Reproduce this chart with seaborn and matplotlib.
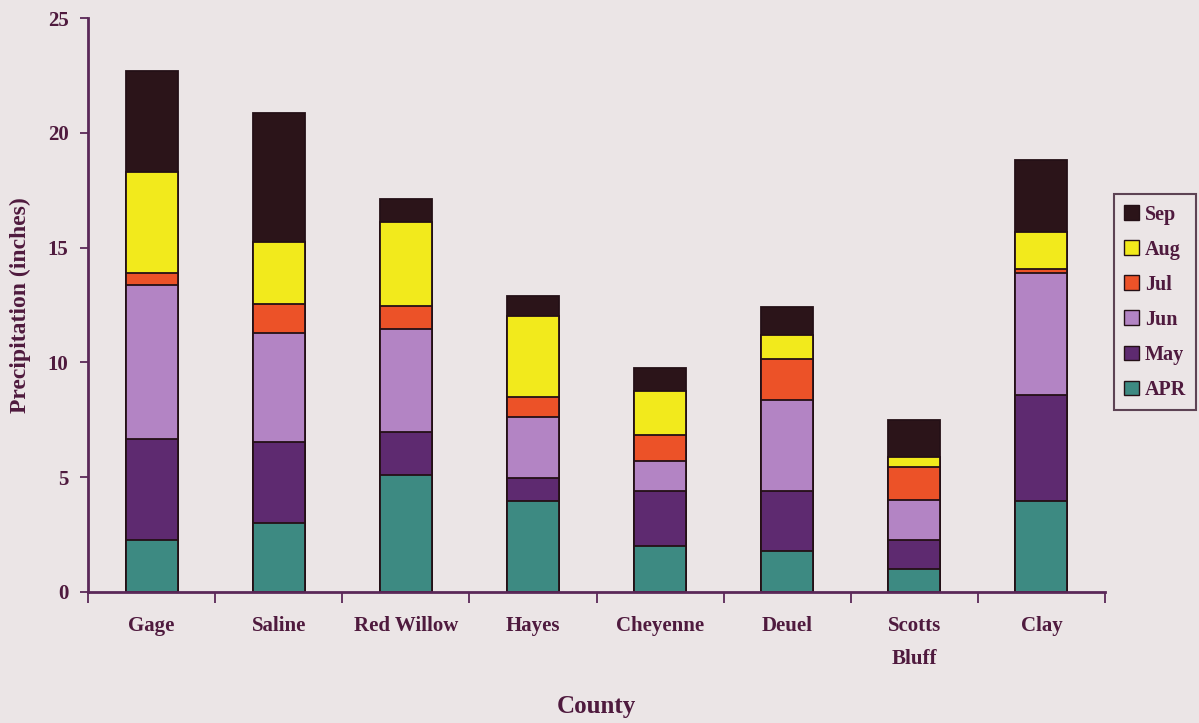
import numpy as np
import pandas as pd
import matplotlib
matplotlib.use("Agg")
import matplotlib.pyplot as plt
import seaborn as sns
from matplotlib.patches import Patch

# Monthly precipitation (inches) by county
counties = ["Gage", "Saline", "Red Willow", "Hayes", "Cheyenne", "Deuel", "Scotts\nBluff", "Clay"]
months = ["APR", "May", "Jun", "Jul", "Aug", "Sep"]
apr = [2.26, 3.00, 5.10, 3.95, 2.00, 1.80, 1.00, 3.95]
may = [4.40, 3.55, 1.85, 1.00, 2.40, 2.60, 1.25, 4.65]
jun = [6.73, 4.75, 4.50, 2.65, 1.30, 3.95, 1.75, 5.30]
jul = [0.50, 1.25, 1.00, 0.90, 1.15, 1.80, 1.45, 0.15]
aug = [4.41, 2.70, 3.65, 3.50, 1.90, 1.05, 0.45, 1.65]
sep = [4.37, 5.60, 1.00, 0.90, 1.00, 1.20, 1.60, 3.10]

colors = {
    "APR": "#3d8a82",
    "May": "#5e2a70",
    "Jun": "#b384c4",
    "Jul": "#ec5228",
    "Aug": "#f2ea1c",
    "Sep": "#2b1419",
}

paper = "#ebe5e6"
ink = "#4f1a3e"
axis_col = "#5a2858"

df = pd.DataFrame({"County": counties, "APR": apr, "May": may, "Jun": jun,
                   "Jul": jul, "Aug": aug, "Sep": sep})
cum = df[months].cumsum(axis=1)
cum["County"] = df["County"]

sns.set_theme(style="white")
plt.rcParams["font.family"] = ["Liberation Serif", "DejaVu Serif"]
plt.rcParams["font.weight"] = "bold"

fig = plt.figure(figsize=(11.99, 7.23), dpi=100, facecolor=paper)
ax = fig.add_axes([0.0734, 0.1812, 0.8482, 0.7939])
ax.set_facecolor(paper)

# Stacked bars: draw cumulative totals from the top month down
for m in reversed(months):
    sns.barplot(data=cum, x="County", y=m, color=colors[m], width=0.41,
                edgecolor="#241016", linewidth=1.3, saturation=1, ax=ax)

ax.set_xlim(-0.5, len(counties) - 0.5)
ax.set_ylim(0, 25)
ax.set_yticks(np.arange(0, 26, 5))
ax.set_yticklabels([str(v) for v in range(0, 26, 5)], color=ink, fontsize=15,
                   fontweight="bold")

# category labels centred under bars; tick marks between categories
ax.set_xticks(np.arange(-0.5, len(counties), 1.0))
ax.set_xticklabels([])
ax.set_xticks(np.arange(len(counties)), minor=True)
ax.set_xticklabels(counties, minor=True, color=ink, fontsize=15,
                   fontweight="bold", linespacing=1.9)
ax.tick_params(axis="x", which="major", direction="out", length=8, width=1.3,
               color=axis_col, bottom=True)
ax.tick_params(axis="x", which="minor", length=0, pad=17)
ax.tick_params(axis="y", direction="out", length=6, width=1.3, color=axis_col,
               left=True, pad=8)

ax.set_xlabel("County", color=ink, fontsize=18, fontweight="bold", labelpad=19)
ax.set_ylabel("Precipitation (inches)", color=ink, fontsize=17,
              fontweight="bold", labelpad=12)

for s in ["top", "right"]:
    ax.spines[s].set_visible(False)
for s in ["left", "bottom"]:
    ax.spines[s].set_color(axis_col)
    ax.spines[s].set_linewidth(2)

handles = [Patch(facecolor=colors[m], edgecolor="#241016", linewidth=1.0, label=m)
           for m in reversed(months)]
leg = fig.legend(handles=handles, loc="upper left",
                 bbox_to_anchor=(0.929, 0.731), frameon=True, fancybox=False,
                 handlelength=0.75, handleheight=0.75, handletextpad=0.3,
                 labelspacing=0.75, borderpad=0.5, borderaxespad=0,
                 prop={"family": "Liberation Serif", "weight": "bold", "size": 14.5})
leg.get_frame().set_edgecolor("#3a1a30")
leg.get_frame().set_linewidth(1.5)
leg.get_frame().set_facecolor(paper)
for t in leg.get_texts():
    t.set_color(ink)

fig.savefig("out.png", dpi=100, facecolor=paper)
